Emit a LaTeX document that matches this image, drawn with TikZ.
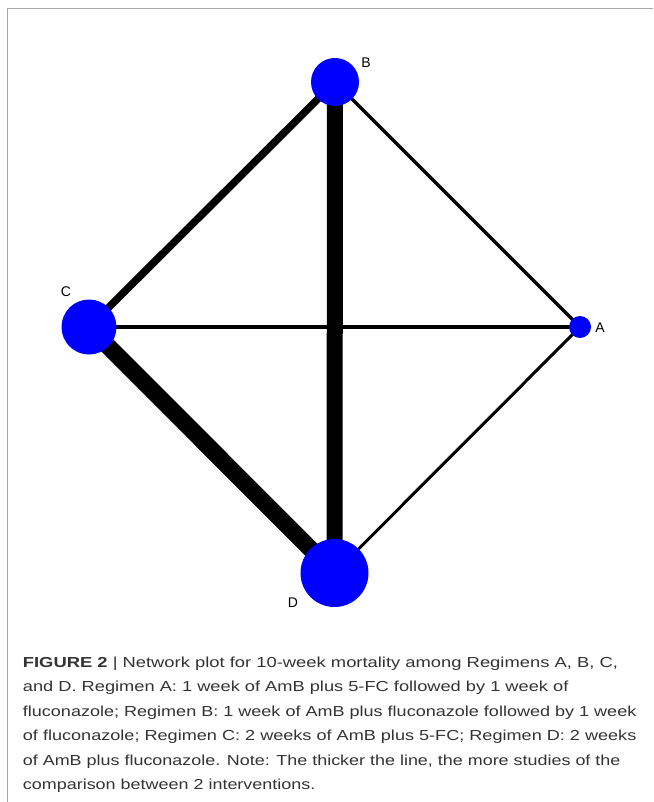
\documentclass[tikz,border=0pt]{standalone}
\usepackage{fontspec}
\setmainfont{Liberation Sans}
\usepackage{graphicx}
\definecolor{nodeblue}{HTML}{0000FF}
\definecolor{captxt}{HTML}{333333}
\definecolor{framegray}{HTML}{A8A8A8}
\tikzset{
  trt/.style={circle, fill=nodeblue, draw=none, inner sep=0pt},
  lab/.style={font=\fontsize{14}{14}\selectfont, text=black, inner sep=0pt},
  edge/.style={draw=black, line cap=butt},
  capline/.style={anchor=base west, inner sep=0pt, text=captxt}
}
\newcommand{\capl}[2]{\resizebox{#1pt}{\height}{\fontsize{14.5}{14.5}\selectfont #2}}
\begin{document}
\begin{tikzpicture}[x=1pt, y=-1pt]
\useasboundingbox (0,0) rectangle (653,802);
% frame
\draw[framegray, line width=1.3pt] (7.6,802) -- (7.6,8.7) -- (653,8.7);
% node positions
\coordinate (pB) at (335,82);
\coordinate (pC) at (89,327);
\coordinate (pA) at (580,327);
\coordinate (pD) at (334.5,573);
% edges
\draw[edge, line width=7.5pt] (pB) -- (pC);
\draw[edge, line width=3.5pt] (pB) -- (pA);
\draw[edge, line width=16pt] (pB) -- (pD);
\draw[edge, line width=4pt] (pC) -- (pA);
\draw[edge, line width=17pt] (pC) -- (pD);
\draw[edge, line width=3pt] (pA) -- (pD);
% nodes
\node[trt, minimum size=48pt] (B) at (pB) {};
\node[trt, minimum size=55pt] (C) at (pC) {};
\node[trt, minimum size=22pt] (A) at (pA) {};
\node[trt, minimum size=68pt] (D) at (pD) {};
% labels
\node[lab] (lB) at (366,63) {B};
\node[lab] (lC) at (66,292) {C};
\node[lab] (lA) at (600,328) {A};
\node[lab] (lD) at (293,603) {D};
% caption
\node[capline] (c1) at (22.7,667) {\capl{595}{\textbf{FIGURE 2} | Network plot for 10-week mortality among Regimens A, B, C,}};
\node[capline] (c2) at (22.7,691.5) {\capl{545.5}{and D. Regimen A: 1 week of AmB plus 5-FC followed by 1 week of}};
\node[capline] (c3) at (22.7,716) {\capl{613.5}{fluconazole; Regimen B: 1 week of AmB plus fluconazole followed by 1 week}};
\node[capline] (c4) at (22.7,740.5) {\capl{613.5}{of fluconazole; Regimen C: 2 weeks of AmB plus 5-FC; Regimen D: 2 weeks}};
\node[capline] (c5) at (22.7,765) {\capl{597.5}{of AmB plus fluconazole. Note: The thicker the line, the more studies of the}};
\node[capline] (c6) at (22.7,789.5) {\capl{292.5}{comparison between 2 interventions.}};
\end{tikzpicture}
\end{document}
